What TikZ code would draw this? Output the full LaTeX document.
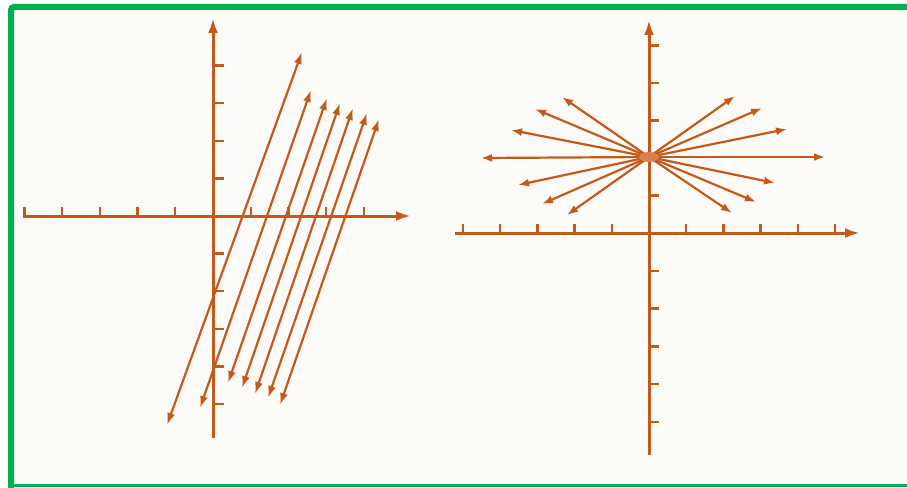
\documentclass[tikz,border=0pt]{standalone}
\usetikzlibrary{arrows.meta,calc}
\definecolor{ax}{HTML}{C4591A}
\definecolor{framegreen}{HTML}{00B050}
\definecolor{paper}{HTML}{FDFBF8}
\begin{document}
\begin{tikzpicture}[x=1pt,y=-1pt,
  axisline/.style={draw=ax,line width=3pt,-{Latex[length=15pt,width=10pt]}},
  plainaxis/.style={draw=ax,line width=3pt},
  tick/.style={draw=ax,line width=2.3pt},
  twoway/.style={draw=ax,line width=2.2pt,{Latex[length=12pt,width=8pt]}-{Latex[length=12pt,width=8pt]}},
  oneway/.style={draw=ax,line width=2.2pt,-{Latex[length=11pt,width=8pt]}}]
\useasboundingbox (0,0) rectangle (907,487);
\fill[white] (0,0) rectangle (907,487);
\fill[paper] (11,7) rectangle (907,485);
\draw[framegreen,line width=6pt,rounded corners=3pt] (11,490) -- (11,7) -- (915,7);
\draw[framegreen,line width=3pt] (8,485.5) -- (907,485.5);

% ---------- left graph ----------
\coordinate (LO) at (213,216);
\coordinate (LXs) at (23,216);
\coordinate (LXe) at (411,216);
\coordinate (LYs) at (213,438);
\coordinate (LYe) at (213,18);
\draw[axisline] (LXs) -- (LXe);
\draw[plainaxis] (LYs) -- (LO);
\draw[axisline] (LO) -- (LYe);
\foreach \k in {-5,-4,-3,-2,-1,1,2,3,4}
  \draw[tick] ($(LO)+(37.7*\k,1)$) -- ++(0,-10);
\foreach \k in {-5,-4,-3,-2,-1,1,2,3,4}
  \draw[tick] ($(LO)+(0,-37.6*\k)$) -- ++(11,0);

\coordinate (a1) at (167,425); \coordinate (b1) at (302,52);
\coordinate (a2) at (200,408); \coordinate (b2) at (311,90);
\coordinate (a3) at (228,383); \coordinate (b3) at (327,98);
\coordinate (a4) at (242,388); \coordinate (b4) at (340,103);
\coordinate (a5) at (255,394); \coordinate (b5) at (353,108);
\coordinate (a6) at (268,398); \coordinate (b6) at (367,113);
\coordinate (a7) at (280,405); \coordinate (b7) at (379,119);
\foreach \i in {1,...,7}
  \draw[twoway] (a\i) -- (b\i);

% ---------- right graph ----------
\coordinate (RO) at (649,233);
\coordinate (RXs) at (455,233);
\coordinate (RXe) at (860,233);
\coordinate (RYs) at (649,455);
\coordinate (RYe) at (649,20);
\draw[axisline] (RXs) -- (RXe);
\draw[plainaxis] (RYs) -- (RO);
\draw[axisline] (RO) -- (RYe);
\foreach \k in {-5,-4,-3,-2,-1,1,2,3,4,5}
  \draw[tick] ($(RO)+(37.2*\k,1)$) -- ++(0,-10);
\foreach \k in {1,2,3,4,5}
  \draw[tick] ($(RO)+(0,-37.5*\k)$) -- ++(10,0);
\foreach \k in {1,2,3,4,5}
  \draw[tick] ($(RO)+(0,37.8*\k)$) -- ++(10,0);

\coordinate (C) at (649,157);
\foreach \p in {(481,158),(511,130),(535,109),(562,97),(518,185),(542,204),(567,215),
                (825,157),(787,129),(762,108),(735,96),(775,183),(756,202),(732,213)}
  \draw[oneway] (C) -- \p;
\fill[ax!75] (C) ellipse (10pt and 5pt);
\end{tikzpicture}
\end{document}
